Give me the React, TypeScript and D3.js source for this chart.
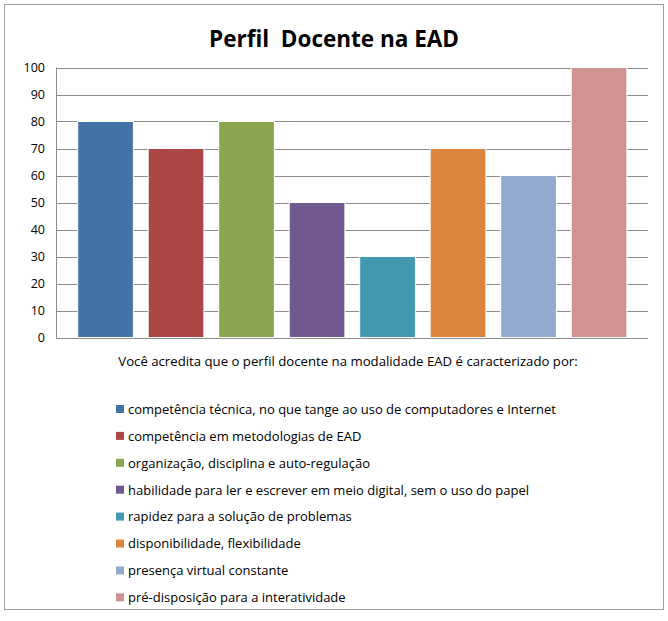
import React from "react";
import * as d3 from "d3";

const categories = [
  "competência técnica, no que tange ao uso de computadores e Internet",
  "competência em metodologias de EAD",
  "organização, disciplina e auto-regulação",
  "habilidade para ler e escrever em meio digital, sem o uso do papel",
  "rapidez para a solução de problemas",
  "disponibilidade, flexibilidade",
  "presença virtual constante",
  "pré-disposição para a interatividade",
];
const values = [80, 70, 80, 50, 30, 70, 60, 100];
const colors = ["#4572A7", "#AA4643", "#89A54E", "#71588F", "#4198AF", "#DB843D", "#93A9CF", "#D19392"];
const yTicks = [0, 10, 20, 30, 40, 50, 60, 70, 80, 90, 100];
const title = "Perfil  Docente na EAD";
const axisTitle = "Você acredita que o perfil docente na modalidade EAD é caracterizado por:";

const W = 668, H = 621;
const FONT = "'Open Sans', 'DejaVu Sans', sans-serif";

export default function App() {
  const plotL = 56, plotR = 648;
  const x = d3.scaleBand<string>().domain(categories).range([70.3, 634.3]).paddingInner(0.21).paddingOuter(0.105);
  const y = d3.scaleLinear().domain([0, 100]).range([337.5, 67.5]);
  const legendY0 = 409, legendStep = 26.9;
  return (
    <svg width={W} height={H} style={{ position: "absolute", left: 0, top: 0, background: "#fff" }} fontFamily={FONT}>
      <rect x={4.5} y={4.5} width={659} height={605} fill="#fff" stroke="#a0a0a0" strokeWidth={1} />
      <text x={334} y={47} textAnchor="middle" fontSize={22.5} fontWeight="bold" fill="#000" style={{ whiteSpace: "pre" }}>{title}</text>
      {yTicks.map((t) => (
        <g key={t}>
          <line x1={plotL} x2={plotR} y1={Math.round(y(t)) + 0.5} y2={Math.round(y(t)) + 0.5} stroke="#8c8c8c" strokeWidth={1} />
          <text x={45} y={y(t) + 4.5} textAnchor="end" fontSize={12.5} fill="#000">{t}</text>
        </g>
      ))}
      <line x1={plotL + 0.5} x2={plotL + 0.5} y1={y(100)} y2={y(0) + 0.5} stroke="#8c8c8c" strokeWidth={1} />
      {categories.map((c, i) => (
        <rect key={c} x={x(c)!} y={y(values[i])} width={x.bandwidth()} height={y(0) - y(values[i])}
          fill={colors[i]} stroke="#ffffff" strokeWidth={1} />
      ))}
      <text x={348} y={366} textAnchor="middle" fontSize={13.2} fill="#000">{axisTitle}</text>
      {categories.map((c, i) => (
        <g key={"l" + c}>
          <rect x={116} y={legendY0 + i * legendStep - 4} width={8} height={8} fill={colors[i]} />
          <text x={128} y={legendY0 + i * legendStep + 4.8} fontSize={13} fill="#000">{c}</text>
        </g>
      ))}
    </svg>
  );
}
